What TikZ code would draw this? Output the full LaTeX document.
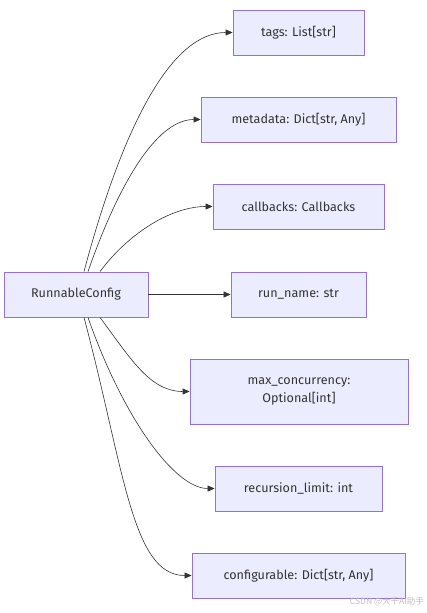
\documentclass[tikz,border=0pt]{standalone}
\usepackage{fontspec}
\setmainfont{Fira Sans}
\newfontfamily\cjkfont{Noto Sans CJK SC}
\usetikzlibrary{arrows.meta,calc}
\definecolor{boxfill}{HTML}{ECECFF}
\definecolor{boxline}{HTML}{9370DB}
\definecolor{ink}{HTML}{333333}
\tikzset{
  box/.style={draw=boxline, fill=boxfill, line width=0.9pt, rectangle, minimum height=45pt, inner sep=0pt, text=ink, font=\fontsize{12.6}{18}\selectfont, align=center},
  link/.style={draw=ink, line width=0.6pt, -{Triangle[length=7pt,width=6pt]}},
}
\begin{document}
\begin{tikzpicture}[x=1pt,y=-1pt]
\useasboundingbox (0,0) rectangle (427,613);
\node[box, minimum width=144pt] (rc) at (76,294.5) {RunnableConfig};
\node[box, minimum width=131pt] (tags) at (298.5,32.5) {tags: List[str]};
\node[box, minimum width=195pt] (meta) at (298.5,119.5) {metadata: Dict[str, Any]};
\node[box, minimum width=171pt] (cb) at (298.5,206.5) {callbacks: Callbacks};
\node[box, minimum width=135pt] (rn) at (298.5,294.5) {run\_name: str};
\node[box, minimum width=218pt, minimum height=65pt] (mc) at (299,391.5) {max\_concurrency:\\Optional[int]};
\node[box, minimum width=167pt] (rl) at (298.5,488.5) {recursion\_limit: int};
\node[box, minimum width=213pt] (cf) at (298.5,575.5) {configurable: Dict[str, Any]};
\coordinate (s1) at ($(rc.north)+(8,0)$);
\coordinate (s2) at ($(rc.north)+(12,0)$);
\coordinate (s3) at ($(rc.north)+(24,0)$);
\coordinate (b1) at ($(rc.south)+(24,0)$);
\coordinate (b2) at ($(rc.south)+(12,0)$);
\coordinate (b3) at ($(rc.south)+(8,0)$);
\draw[link] (s1) .. controls ($(s1)+(40,-150)$) and ($(tags.west)+(-60,0)$) .. (tags.west);
\draw[link] (s2) .. controls ($(s2)+(35,-100)$) and ($(meta.west)+(-40,0)$) .. (meta.west);
\draw[link] (s3) .. controls ($(s3)+(30,-40)$) and ($(cb.west)+(-40,0)$) .. (cb.west);
\draw[link] (rc.east) -- (rn.west);
\draw[link] (b1) .. controls ($(b1)+(30,40)$) and ($(mc.west)+(-40,0)$) .. (mc.west);
\draw[link] (b2) .. controls ($(b2)+(35,100)$) and ($(rl.west)+(-40,0)$) .. (rl.west);
\draw[link] (b3) .. controls ($(b3)+(40,150)$) and ($(cf.west)+(-60,0)$) .. (cf.west);
\node[text=black!25, font=\cjkfont\fontsize{8.5}{10}\selectfont, anchor=east, inner sep=0pt] (wm) at (424,602) {CSDN @大千AI助手};
\end{tikzpicture}
\end{document}
